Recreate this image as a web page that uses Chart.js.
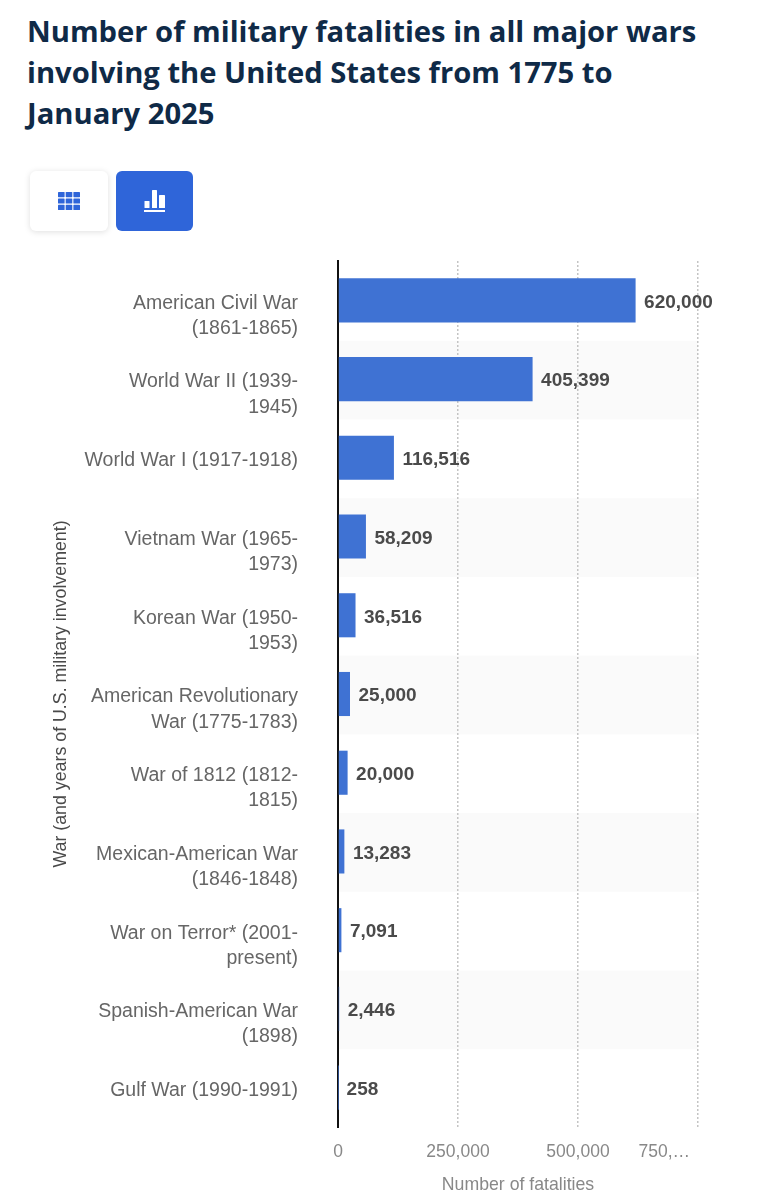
<!DOCTYPE html>
<html>
<head>
<meta charset="utf-8">
<style>
  html, body { margin: 0; padding: 0; background: #fff; }
  #page { position: relative; width: 760px; height: 1200px; overflow: hidden; }
  h1 {
    position: absolute; left: 27px; top: 10.5px; width: 720px; margin: 0;
    font: 700 29.2px/41px "Open Sans", sans-serif; color: #0f2a47;
  }
  .btn {
    position: absolute; top: 171px; height: 60px; width: 78px; border-radius: 6px;
    display: flex; align-items: center; justify-content: center;
  }
  #tableBtn { left: 30px; background: #fff; box-shadow: 0 1px 6px rgba(0,0,0,.13); }
  #chartBtn { left: 116px; width: 77px; background: #2f65d9; }
  canvas { position: absolute; left: 0; top: 0; }
</style>
</head>
<body>
<div id="page">
  <h1>Number of military fatalities in all major wars<br>involving the United States from 1775 to<br>January 2025</h1>
  <div class="btn" id="tableBtn">
    <svg width="22" height="18" viewBox="0 0 22 18" fill="#2f65d9">
      <rect x="0" y="0" width="6.6" height="5.2" rx="0.6"/><rect x="7.7" y="0" width="6.6" height="5.2" rx="0.6"/><rect x="15.4" y="0" width="6.6" height="5.2" rx="0.6"/>
      <rect x="0" y="6.4" width="6.6" height="5.2" rx="0.6"/><rect x="7.7" y="6.4" width="6.6" height="5.2" rx="0.6"/><rect x="15.4" y="6.4" width="6.6" height="5.2" rx="0.6"/>
      <rect x="0" y="12.8" width="6.6" height="5.2" rx="0.6"/><rect x="7.7" y="12.8" width="6.6" height="5.2" rx="0.6"/><rect x="15.4" y="12.8" width="6.6" height="5.2" rx="0.6"/>
    </svg>
  </div>
  <div class="btn" id="chartBtn">
    <svg width="22" height="22" viewBox="0 0 22 22" fill="#fff">
      <rect x="0.5" y="11" width="5" height="7" rx="0.6"/><rect x="8" y="0" width="5" height="18" rx="0.6"/><rect x="15" y="5" width="6" height="13" rx="0.6"/>
      <rect x="0" y="20" width="21" height="2"/>
    </svg>
  </div>
  <canvas id="chart" width="760" height="1200"></canvas>
</div>
<script src="https://cdn.jsdelivr.net/npm/chart.js@4/dist/chart.umd.min.js"></script>
<script>
const warLabels = [
  ["American Civil War", "(1861-1865)"],
  ["World War II (1939-", "1945)"],
  ["World War I (1917-1918)"],
  ["Vietnam War (1965-", "1973)"],
  ["Korean War (1950-", "1953)"],
  ["American Revolutionary", "War (1775-1783)"],
  ["War of 1812 (1812-", "1815)"],
  ["Mexican-American War", "(1846-1848)"],
  ["War on Terror* (2001-", "present)"],
  ["Spanish-American War", "(1898)"],
  ["Gulf War (1990-1991)"]
];
const fatalities = [620000, 405399, 116516, 58209, 36516, 25000, 20000, 13283, 7091, 2446, 258];
const valueTicks = [0, 250000, 500000, 750000];
const valueTickLabels = ["0", "250,000", "500,000", "750,…"];

const SANS = '"Liberation Sans", Arial, sans-serif';

// Shades every second row behind the grid.
const rowBands = {
  id: 'rowBands',
  beforeDraw(chart) {
    const { ctx, chartArea, scales: { y } } = chart;
    const rowH = y.getPixelForValue(1) - y.getPixelForValue(0);
    ctx.save();
    ctx.fillStyle = '#fafafa';
    warLabels.forEach((_, i) => {
      if (i % 2 === 1) {
        ctx.fillRect(chartArea.left, y.getPixelForValue(i) - rowH / 2 + 1, chartArea.width, rowH);
      }
    });
    ctx.restore();
  }
};

// Value axis labels; the clipped last label sits inside the plot's right edge.
const valueAxisLabels = {
  id: 'valueAxisLabels',
  afterDraw(chart) {
    const { ctx, chartArea, scales: { x } } = chart;
    ctx.save();
    ctx.font = '17.5px ' + SANS;
    ctx.fillStyle = '#888888';
    ctx.textBaseline = 'middle';
    valueTicks.forEach((v, i) => {
      const last = i === valueTicks.length - 1;
      ctx.textAlign = last ? 'right' : 'center';
      ctx.fillText(valueTickLabels[i], x.getPixelForValue(v) - (last ? 8 : 0), chartArea.bottom + 25);
    });
    ctx.restore();
  }
};

// Prints each value just past the end of its bar.
const barValues = {
  id: 'barValues',
  afterDatasetsDraw(chart) {
    const { ctx } = chart;
    ctx.save();
    ctx.font = 'bold 19px ' + SANS;
    ctx.fillStyle = '#4a4a4a';
    ctx.textAlign = 'left';
    ctx.textBaseline = 'middle';
    chart.getDatasetMeta(0).data.forEach((bar, i) => {
      ctx.fillText(fatalities[i].toLocaleString('en-US'), bar.x + 8.5, bar.y + 2);
    });
    ctx.restore();
  }
};

new Chart(document.getElementById('chart'), {
  type: 'bar',
  data: {
    labels: warLabels,
    datasets: [{
      data: fatalities,
      backgroundColor: '#3f72d3',
      categoryPercentage: 1,
      barPercentage: 0.56
    }]
  },
  plugins: [rowBands, valueAxisLabels, barValues],
  options: {
    indexAxis: 'y',
    responsive: false,
    animation: false,
    layout: { padding: { top: 261, right: 62, bottom: 4, left: 50 } },
    plugins: { legend: { display: false }, tooltip: { enabled: false } },
    scales: {
      x: {
        min: 0,
        max: 750000,
        afterBuildTicks(axis) { axis.ticks = valueTicks.map(value => ({ value })); },
        afterFit(axis) { axis.height = 69; },
        ticks: { display: false },
        grid: { color: '#c4c4c4', lineWidth: 1.5, drawTicks: false },
        border: { display: false, dash: [2, 2] },
        title: {
          display: true,
          text: 'Number of fatalities',
          color: '#888888',
          font: { family: SANS, size: 17.7 },
          padding: { top: 0, bottom: 0 }
        }
      },
      y: {
        afterFit(axis) { axis.width = 338 - 50; },
        ticks: {
          autoSkip: false,
          padding: 32,
          labelOffset: 3,
          color: '#666666',
          font: { family: SANS, size: 19.5, lineHeight: 1.29 },
          // A blank first line keeps the first printed line level with the bar.
          callback(value) {
            const lines = warLabels[value];
            return lines.length > 1 ? ['', ...lines] : lines;
          }
        },
        grid: { display: false },
        border: { color: '#111111', width: 2 },
        title: {
          display: true,
          text: 'War (and years of U.S. military involvement)',
          color: '#4a4a4a',
          font: { family: SANS, size: 17.8 },
          padding: { top: 0, bottom: 0 }
        }
      }
    }
  }
});
</script>
</body>
</html>
